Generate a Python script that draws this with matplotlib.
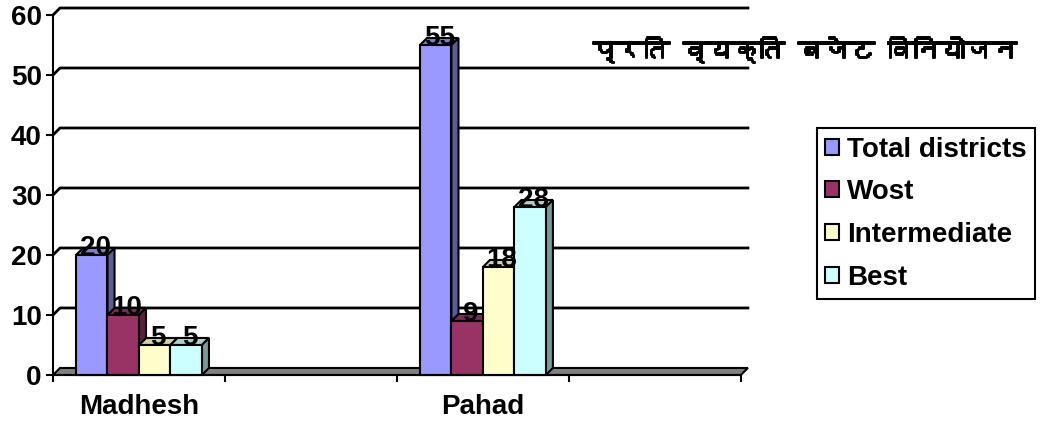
import numpy as np
import matplotlib
matplotlib.use("Agg")
import matplotlib.pyplot as plt
import matplotlib.patheffects as pe
from matplotlib.patches import Polygon, Patch
from matplotlib.colors import to_rgb
from matplotlib import font_manager
from matplotlib.ft2font import FT2Font

# data
categories = ["Madhesh", "", "Pahad", ""]
series = ["Total districts", "Wost", "Intermediate", "Best"]
total_districts = [20, np.nan, 55, np.nan]
wost = [10, np.nan, 9, np.nan]
intermediate = [5, np.nan, 18, np.nan]
best = [5, np.nan, 28, np.nan]
y_ticks = [0, 10, 20, 30, 40, 50, 60]
colors = ["#9999FF", "#993366", "#FFFFCC", "#CCFFFF"]
title = "प्रति व्यक्ति बजेट विनियोजन"

plt.rcParams['font.family'] = ['Liberation Sans', 'DejaVu Sans']
plt.rcParams['font.weight'] = 'bold'
plt.rcParams['font.size'] = 20


def find_font(ch):
    for f in font_manager.fontManager.ttflist:
        try:
            if ord(ch) in FT2Font(f.fname).get_charmap():
                return f.name
        except Exception:
            pass
    return 'DejaVu Sans'


def shade(c, k):
    r, g, b = to_rgb(c)
    return (r * k, g * k, b * k)


fig = plt.figure(figsize=(10.47, 4.23), dpi=100)
ax = fig.add_axes([0.0506, 0.1135, 0.657, 0.851])

x = np.arange(len(categories))
dx, dy = 0.041, 1.17   # depth of the 3d effect in data units
w = 0.183
start = 0.134

ax.set_xlim(0, len(categories))
ax.set_ylim(0, 60)

# back wall gridlines
for t in y_ticks[1:]:
    ax.plot([0, dx, len(categories) + dx], [t, t + dy, t + dy], color='black',
            lw=2, clip_on=False, zorder=1)

# floor
ax.add_patch(Polygon([(0, 0), (len(categories), 0), (len(categories) + dx, dy), (dx, dy)],
                     closed=True, facecolor='#808080', edgecolor='black', lw=1.5,
                     clip_on=False, zorder=1.5))

data = [total_districts, wost, intermediate, best]
for ci in range(len(categories)):
    vals = [d[ci] for d in data]
    if all(np.isnan(v) for v in vals):
        continue
    lefts = [ci + start + i * w for i in range(len(vals))]
    # tops, left to right
    for i, v in enumerate(vals):
        l = lefts[i]
        ax.add_patch(Polygon([(l, v), (l + w, v), (l + w + dx, v + dy), (l + dx, v + dy)],
                             closed=True, facecolor=shade(colors[i], 0.82),
                             edgecolor='black', lw=1.5, clip_on=False, zorder=2))
    # sides, only the part above the next bar
    for i, v in enumerate(vals):
        low = vals[i + 1] if i + 1 < len(vals) else 0
        if low >= v:
            continue
        r = lefts[i] + w
        ax.add_patch(Polygon([(r, low), (r + dx, low + dy), (r + dx, v + dy), (r, v)],
                             closed=True, facecolor=shade(colors[i], 0.6),
                             edgecolor='black', lw=1.5, clip_on=False, zorder=3))

# front faces
for i, d in enumerate(data):
    pos = x + start + i * w
    ax.bar(pos, d, width=w, align='edge', color=colors[i], edgecolor='black',
           lw=1.5, zorder=4, clip_on=False)
    for p, v in zip(pos, d):
        if not np.isnan(v):
            ax.text(p + w / 2 + dx / 2, v - 1.0, f"{v:g}", ha='center', va='bottom',
                    fontsize=20, fontweight='bold', zorder=6)

ax.set_yticks(y_ticks)
ax.set_xticks(np.arange(len(categories) + 1))
ax.set_xticklabels([])
ax.set_xticks(x + 0.5, minor=True)
ax.set_xticklabels(categories, minor=True)
ax.tick_params(axis='x', which='minor', length=0, pad=14)
ax.tick_params(axis='x', which='major', length=5, width=1.5, direction='out')
ax.tick_params(axis='y', length=5, width=1.5, pad=3)
for s in ['top', 'right']:
    ax.spines[s].set_visible(False)
ax.spines['left'].set_linewidth(1.5)
ax.spines['bottom'].set_linewidth(1.5)
ax.spines['bottom'].set_zorder(5)

# title, the font has no bold so thicken it with a stroke
dev = find_font('प')
fig.text(0.769, 0.882, title, ha='center', va='center', fontsize=18.5,
         family=[dev, 'DejaVu Sans'], fontweight='bold',
         path_effects=[pe.withStroke(linewidth=1.4, foreground='black')])

handles = [Patch(facecolor=c, edgecolor='black', lw=1.5) for c in colors]
leg = fig.legend(handles, series, loc='upper left', bbox_to_anchor=(0.780, 0.697),
                 bbox_transform=fig.transFigure, borderaxespad=0, fancybox=False,
                 framealpha=1, edgecolor='black', handlelength=0.5, handleheight=0.5,
                 handletextpad=0.3, labelspacing=0.6, borderpad=0.3,
                 prop={'weight': 'bold', 'size': 20})
leg.get_frame().set_linewidth(1.5)

fig.savefig("out.png", dpi=100)
